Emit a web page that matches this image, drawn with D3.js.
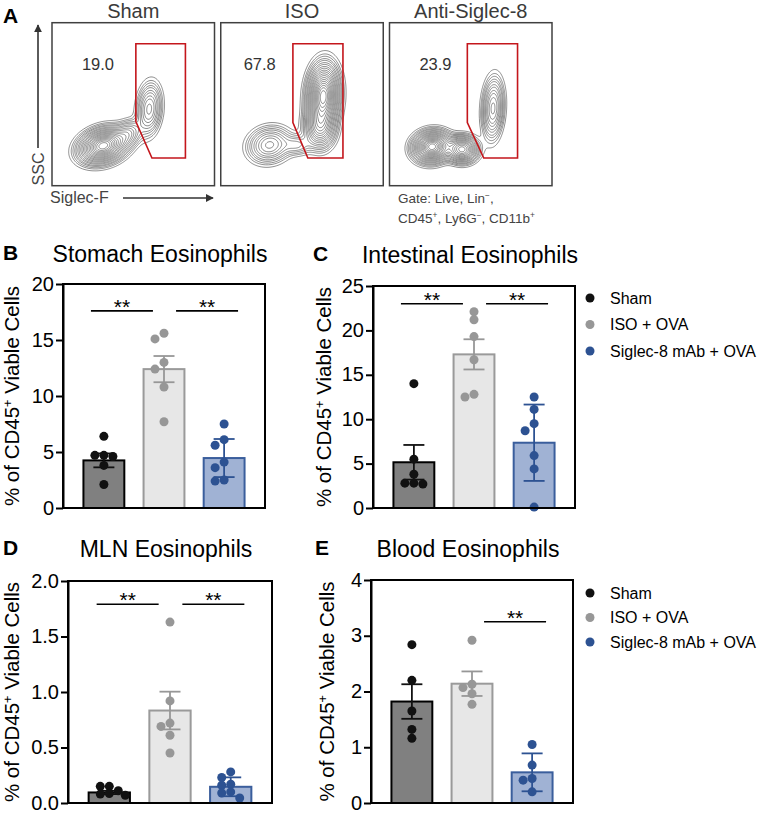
<!DOCTYPE html>
<html><head><meta charset="utf-8">
<script src="https://cdn.jsdelivr.net/npm/d3@7"></script>
<style>
body{margin:0;background:#fff}
text{font-family:"Liberation Sans",Arial,Helvetica,sans-serif}
</style>
</head><body>
<svg id="c" width="759" height="814"></svg>
<script>
// ---------- DATA ----------
const groups = ["Sham", "ISO + OVA", "Siglec-8 mAb + OVA"];
const flowTitles = ["Sham", "ISO", "Anti-Siglec-8"];
const flowPercents = ["19.0", "67.8", "23.9"];
// gate polygons [Siglec-F, SSC] in relative plot units (0..1)
const shamGate = [[0.516,0.871],[0.821,0.871],[0.821,0.17],[0.615,0.17],[0.516,0.393]];
const isoGate  = [[0.444,0.871],[0.752,0.871],[0.752,0.17],[0.536,0.17],[0.444,0.387]];
const antiGate = [[0.479,0.871],[0.788,0.871],[0.788,0.17],[0.58,0.17],[0.479,0.387]];
// density populations [centerX, centerY, spreadMajor, spreadMinor, angleDeg, weight]
const shamPops = [[0.315,0.245,0.078,0.052,18,1.0],[0.47,0.32,0.05,0.04,45,0.2],[0.598,0.47,0.04,0.085,-5,0.3]];
const isoPops  = [[0.631,0.55,0.05,0.10,-3,1.0],[0.61,0.36,0.05,0.07,0,0.45],[0.30,0.25,0.072,0.058,15,0.3],[0.47,0.25,0.05,0.035,0,0.12]];
const antiPops = [[0.262,0.239,0.06,0.048,10,1.0],[0.447,0.223,0.05,0.042,0,0.7],[0.637,0.474,0.035,0.10,-3,0.35]];
const contourLevels = [0.02,0.035,0.05,0.07,0.09,0.12,0.15,0.19,0.23,0.28,0.33,0.39,0.45,0.52,0.59,0.66,0.73,0.8,0.87,0.94];

const stomachPts  = [[6.4,4.7,4.7,4.6,3.8,2.1],[15.6,15.1,13.0,12.4,10.8,7.7],[7.5,6.1,5.6,4.1,3.6,2.5,2.4]];
const stomachMean = [4.25,12.4,4.46];
const stomachErr  = [0.62,1.17,1.7];
const stomachTicks = [0,5,10,15,20];
const stomachSig  = [[0,1,17.6],[1,2,17.6]];

const intestinePts  = [[14.0,5.5,3.8,2.8,2.8,2.7],[22.1,21.2,19.3,16.7,12.8,12.5],[12.5,11.1,9.5,8.7,5.9,4.4,0.1]];
const intestineMean = [5.15,17.3,7.35];
const intestineErr  = [1.95,1.7,4.3];
const intestineTicks = [0,5,10,15,20,25];
const intestineSig  = [[0,1,23.0],[1,2,23.0]];

const mlnPts  = [[0.15,0.15,0.11,0.085,0.08,0.07],[1.63,0.92,0.72,0.69,0.61,0.45],[0.28,0.23,0.17,0.16,0.10,0.09,0.045]];
const mlnMean = [0.095,0.833,0.146];
const mlnErr  = [0.015,0.17,0.085];
const mlnTicks = [0,0.5,1.0,1.5,2.0];
const mlnSig  = [[0,1,1.79],[1,2,1.79]];

const bloodPts  = [[2.84,2.2,1.65,1.32,1.16],[2.92,2.13,2.07,1.96,1.77],[1.05,0.68,0.44,0.41,0.2]];
const bloodMean = [1.82,2.14,0.55];
const bloodErr  = [0.31,0.22,0.34];
const bloodTicks = [0,1,2,3,4];
const bloodSig  = [[1,2,3.25]];

// ---------- STYLE ----------
const dotColor  = ["#111111","#979797","#2d5292"];
const barFill   = ["#808080","#e7e7e7","#a0b2d4"];
const barStroke = ["#000000","#9a9a9a","#3a5e9c"];

const svg = d3.select("#c");

function rich(sel, parts){
  parts.forEach(p=>{
    const t = sel.append("tspan").text(p[0]);
    if(p[1]) t.attr("baseline-shift","super").attr("font-size","62%");
  });
}

// ---------- PANEL A ----------
svg.append("text").attr("x",3).attr("y",23).attr("font-size",21).attr("font-weight","bold").text("A");
const boxBand = d3.scaleBand().domain([0,1,2]).range([52,552]).paddingInner(0.037);
const boxTop = 22.7, boxBot = 185.7;
const popsAll = [shamPops, isoPops, antiPops];
const gatesAll = [shamGate, isoGate, antiGate];
const pctU = [0.283, 0.24, 0.283];
const N = 160;
const defs = svg.append("defs");
defs.append("marker").attr("id","arr").attr("viewBox","0 0 10 10").attr("refX",9).attr("refY",5)
  .attr("markerWidth",5).attr("markerHeight",5).attr("orient","auto")
  .append("path").attr("d","M0,0 L10,5 L0,10 z").attr("fill","#333");

function densityGrid(pops){
  const vals = new Float64Array(N*N);
  for(let j=0;j<N;j++){
    const v = 1-(j+0.5)/N;
    for(let i=0;i<N;i++){
      const u=(i+0.5)/N; let s=0;
      for(const [cu,cv,su,sv,ang,w] of pops){
        const a=ang*Math.PI/180, dx=u-cu, dy=v-cv;
        const p=dx*Math.cos(a)+dy*Math.sin(a), q=-dx*Math.sin(a)+dy*Math.cos(a);
        s+=w*Math.exp(-0.5*(p*p/(su*su)+q*q/(sv*sv)));
      }
      vals[j*N+i]=s;
    }
  }
  return vals;
}

[0,1,2].forEach(k=>{
  const x0 = boxBand(k), x1 = x0+boxBand.bandwidth();
  const xs = d3.scaleLinear().domain([0,1]).range([x0,x1]);
  const ys = d3.scaleLinear().domain([0,1]).range([boxBot,boxTop]);
  const g = svg.append("g");
  defs.append("clipPath").attr("id","clip"+k).append("rect")
    .attr("x",x0).attr("y",boxTop).attr("width",x1-x0).attr("height",boxBot-boxTop);
  const vals = densityGrid(popsAll[k]);
  const mx = d3.max(vals);
  const conts = d3.contours().size([N,N]).thresholds(contourLevels.map(l=>l*mx))(vals);
  const path = d3.geoPath(d3.geoTransform({point(x,y){ this.stream.point(xs(x/N), ys(1-y/N)); }}));
  g.append("g").attr("clip-path",`url(#clip${k})`).selectAll("path").data(conts).join("path")
    .attr("d",path).attr("fill","none").attr("stroke","#4f4f4f").attr("stroke-width",0.65);
  g.append("path").attr("d", d3.line().x(d=>xs(d[0])).y(d=>ys(d[1])).curve(d3.curveLinearClosed)(gatesAll[k]))
    .attr("fill","none").attr("stroke","#c4161c").attr("stroke-width",1.6);
  g.append("rect").attr("x",x0).attr("y",boxTop).attr("width",x1-x0).attr("height",boxBot-boxTop)
    .attr("fill","none").attr("stroke","#404040").attr("stroke-width",1.5);
  g.append("text").attr("x",(x0+x1)/2).attr("y",18).attr("text-anchor","middle")
    .attr("font-size",20).attr("fill","#3a3a3a").text(flowTitles[k]);
  g.append("text").attr("x",xs(pctU[k])).attr("y",ys(0.747)+6).attr("text-anchor","middle")
    .attr("font-size",16.5).attr("fill","#333").text(flowPercents[k]);
});
// axis arrows
svg.append("line").attr("x1",38).attr("y1",148).attr("x2",38).attr("y2",25)
  .attr("stroke","#333").attr("stroke-width",1.6).attr("marker-end","url(#arr)");
svg.append("text").attr("transform","translate(44,169) rotate(-90)").attr("text-anchor","middle")
  .attr("font-size",16).attr("fill","#444").text("SSC");
svg.append("text").attr("x",50).attr("y",203).attr("font-size",16).attr("fill","#444").text("Siglec-F");
svg.append("line").attr("x1",123).attr("y1",198).attr("x2",213).attr("y2",198)
  .attr("stroke","#333").attr("stroke-width",1.6).attr("marker-end","url(#arr)");
const gt1 = svg.append("text").attr("x",398).attr("y",203).attr("font-size",13.5).attr("fill","#444");
rich(gt1, [["Gate: Live, Lin",0],["\u2212",1],[",",0]]);
const gt2 = svg.append("text").attr("x",398).attr("y",223).attr("font-size",13.5).attr("fill","#444");
rich(gt2, [["CD45",0],["+",1],[", Ly6G",0],["\u2212",1],[", CD11b",0],["+",1]]);

// ---------- BAR PANELS ----------
const panels = [
  {letter:"B", lx:3,  title:"Stomach Eosinophils",   pts:stomachPts,  mean:stomachMean,  err:stomachErr,  ticks:stomachTicks,  sig:stomachSig,  fmt:d3.format("d"),
   x0:63, x1:265, yTop:284, yBot:508, labX:19, titleY:262, legend:null},
  {letter:"C", lx:313, title:"Intestinal Eosinophils", pts:intestinePts, mean:intestineMean, err:intestineErr, ticks:intestineTicks, sig:intestineSig, fmt:d3.format("d"),
   x0:373, x1:575, yTop:286, yBot:508, labX:331, titleY:263, legend:{y:298, dy:26.5}},
  {letter:"D", lx:3,  title:"MLN Eosinophils",       pts:mlnPts,      mean:mlnMean,      err:mlnErr,      ticks:mlnTicks,      sig:mlnSig,      fmt:d3.format(".1f"),
   x0:68, x1:272, yTop:581, yBot:803, labX:19, titleY:557, legend:null},
  {letter:"E", lx:315, title:"Blood Eosinophils",    pts:bloodPts,    mean:bloodMean,    err:bloodErr,    ticks:bloodTicks,    sig:bloodSig,    fmt:d3.format("d"),
   x0:371, x1:573, yTop:580, yBot:803, labX:334, titleY:557, legend:{y:593, dy:24.5}}
];

const R = 4.5;
function swarm(vals, y, cx){
  const order = vals.map((v,i)=>i).sort((a,b)=>vals[b]-vals[a]);
  const placed = [];
  const out = new Array(vals.length);
  const offs = [0,-9,9,-16,16,-22,22];
  order.forEach(i=>{
    const py = y(vals[i]);
    for(const o of offs){
      const px = cx+o;
      if(placed.every(p=>Math.hypot(p[0]-px,p[1]-py) >= 1.6*R)){ placed.push([px,py]); out[i]=[px,py]; break; }
    }
    if(!out[i]){ out[i]=[cx,py]; placed.push(out[i]); }
  });
  return out;
}

panels.forEach(P=>{
  const g = svg.append("g");
  const y = d3.scaleLinear().domain([P.ticks[0], P.ticks[P.ticks.length-1]]).range([P.yBot,P.yTop]);
  const x = d3.scaleBand().domain([0,1,2]).range([P.x0,P.x1]).paddingInner(0.32).paddingOuter(0.34);
  const bw = x.bandwidth();
  // letter & title
  g.append("text").attr("x",P.lx).attr("y",P.titleY-2).attr("font-size",21).attr("font-weight","bold").text(P.letter);
  g.append("text").attr("x",(P.x0+P.x1)/2-4).attr("y",P.titleY).attr("text-anchor","middle").attr("font-size",23).text(P.title);
  // bars
  [0,1,2].forEach(k=>{
    g.append("rect").attr("x",x(k)).attr("y",y(P.mean[k])).attr("width",bw).attr("height",P.yBot-y(P.mean[k]))
      .attr("fill",barFill[k]).attr("stroke",barStroke[k]).attr("stroke-width",2);
  });
  // error bars
  [0,1,2].forEach(k=>{
    const cx = x(k)+bw/2, hi=y(P.mean[k]+P.err[k]), lo=y(P.mean[k]-P.err[k]);
    const eg = g.append("g").attr("stroke",dotColor[k]).attr("stroke-width",1.8);
    eg.append("line").attr("x1",cx).attr("x2",cx).attr("y1",hi).attr("y2",lo);
    eg.append("line").attr("x1",cx-10.5).attr("x2",cx+10.5).attr("y1",hi).attr("y2",hi);
    eg.append("line").attr("x1",cx-10.5).attr("x2",cx+10.5).attr("y1",lo).attr("y2",lo);
  });
  // points
  [0,1,2].forEach(k=>{
    const cx = x(k)+bw/2;
    const pos = swarm(P.pts[k], y, cx);
    g.append("g").selectAll("circle").data(pos).join("circle")
      .attr("cx",d=>d[0]).attr("cy",d=>d[1]).attr("r",R).attr("fill",dotColor[k]);
  });
  // frame & axis
  g.append("rect").attr("x",P.x0).attr("y",P.yTop).attr("width",P.x1-P.x0).attr("height",P.yBot-P.yTop)
    .attr("fill","none").attr("stroke","#000").attr("stroke-width",2);
  const ax = g.append("g").attr("transform",`translate(${P.x0},0)`)
    .call(d3.axisLeft(y).tickValues(P.ticks).tickFormat(P.fmt).tickSize(7).tickSizeOuter(0).tickPadding(2));
  ax.select(".domain").attr("stroke-width",2);
  ax.selectAll(".tick line").attr("stroke-width",2);
  ax.selectAll(".tick text").attr("font-size",20).attr("fill","#000").attr("font-family",null).attr("dy","0.3em");
  // y label
  const yl = g.append("text").attr("transform",`translate(${P.labX},${(P.yTop+P.yBot)/2}) rotate(-90)`)
    .attr("text-anchor","middle").attr("font-size",20.5);
  rich(yl, [["% of CD45",0],["+",1],[" Viable Cells",0]]);
  // significance
  P.sig.forEach(([a,b,v])=>{
    const ca = x(a)+bw/2, cb = x(b)+bw/2, mid=(ca+cb)/2 + (a===0?-12:13);
    const yy = y(v);
    g.append("line").attr("x1",mid-31).attr("x2",mid+31).attr("y1",yy).attr("y2",yy).attr("stroke","#000").attr("stroke-width",1.6);
    g.append("text").attr("x",mid).attr("y",yy+3).attr("text-anchor","middle").attr("font-size",21).text("**");
  });
  // legend
  if(P.legend){
    groups.forEach((nm,k)=>{
      const ly = P.legend.y + k*P.legend.dy;
      g.append("circle").attr("cx",590).attr("cy",ly).attr("r",R).attr("fill",dotColor[k]);
      g.append("text").attr("x",610).attr("y",ly).attr("dy","0.35em").attr("font-size",16).text(nm);
    });
  }
});
</script>
</body></html>
